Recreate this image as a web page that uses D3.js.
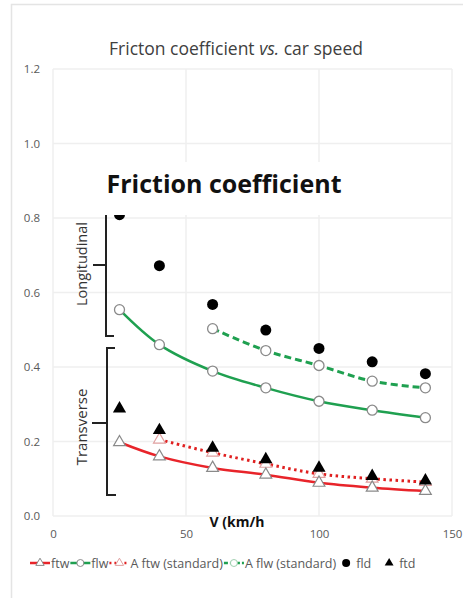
<!DOCTYPE html>
<html>
<head>
<meta charset="utf-8">
<script src="https://cdn.jsdelivr.net/npm/d3@7"></script>
<style>
	body { margin: 0; background: #fff; }
	svg { display: block; font-family: "Open Sans", "Noto Sans", sans-serif; }
</style>
</head>
<body>
<svg id="chart" width="463" height="598"></svg>
<script>
// speeds in km/h
const speeds = [25, 40, 60, 80, 100, 120, 140];
const speedsStdFtw = [40, 60, 80, 100, 120, 140];
const speedsStdFlw = [60, 80, 100, 120, 140];

const ftw = [0.198, 0.160, 0.129, 0.111, 0.089, 0.076, 0.067];
const flw = [0.554, 0.460, 0.389, 0.344, 0.308, 0.284, 0.264];
const ftwStd = [0.205, 0.170, 0.140, 0.113, 0.100, 0.091];
const flwStd = [0.503, 0.444, 0.404, 0.362, 0.344];
const fld = [0.809, 0.672, 0.568, 0.499, 0.450, 0.414, 0.382];
const ftd = [0.288, 0.230, 0.183, 0.152, 0.129, 0.107, 0.095];

const xTicks = [0, 50, 100, 150];
const yTicks = [0, 0.2, 0.4, 0.6, 0.8, 1.0, 1.2];

const svg = d3.select('#chart');

// outer frame
svg.append('path')
	.attr('d', 'M11.5,598 V4.5 H463')
	.attr('fill', 'none')
	.attr('stroke', '#e4e4e4')
	.attr('stroke-width', 1.5);

const x = d3.scaleLinear().domain([0, 150]).range([53, 452]);
const y = d3.scaleLinear().domain([0, 1.2]).range([516, 69]);

// grid
const grid = svg.append('g');
grid.selectAll('.hg').data(yTicks).join('line')
	.attr('x1', x(0)).attr('x2', x(150))
	.attr('y1', d => y(d)).attr('y2', d => y(d))
	.attr('stroke', '#efefef').attr('stroke-width', 1.5);
grid.selectAll('.vg').data(xTicks).join('line')
	.attr('y1', y(0)).attr('y2', y(1.2))
	.attr('x1', d => x(d)).attr('x2', d => x(d))
	.attr('stroke', '#efefef').attr('stroke-width', 1.5);

// axes (labels only)
const yAxis = svg.append('g')
	.attr('transform', 'translate(40,0)')
	.call(d3.axisLeft(y).tickValues(yTicks).tickFormat(d3.format('.1f')).tickSize(0).tickPadding(0));
yAxis.select('.domain').remove();
yAxis.selectAll('text').attr('font-size', 11.5).attr('fill', '#595959').attr('font-family', '"Open Sans", sans-serif');

const xAxis = svg.append('g')
	.attr('transform', 'translate(0,530)')
	.call(d3.axisBottom(x).tickValues(xTicks).tickFormat(d3.format('d')).tickSize(0).tickPadding(0));
xAxis.select('.domain').remove();
xAxis.selectAll('text').attr('font-size', 11.5).attr('fill', '#595959').attr('font-family', '"Open Sans", sans-serif');

// title
const title = svg.append('text')
	.attr('x', 236).attr('y', 55)
	.attr('text-anchor', 'middle')
	.attr('font-size', 17.5)
	.attr('fill', '#404040');
title.append('tspan').text('Fricton coefficient ');
title.append('tspan').attr('font-style', 'italic').text('vs.');
title.append('tspan').text(' car speed');

// axis title
svg.append('text')
	.attr('x', 237).attr('y', 527)
	.attr('text-anchor', 'middle')
	.attr('font-size', 14)
	.attr('font-weight', 'bold')
	.attr('fill', '#111')
	.text('V (km/h');

const line = d3.line().curve(d3.curveCatmullRom.alpha(0.5));
const pts = (xs, vs) => xs.map((s, i) => [x(s), y(vs[i])]);

const series = [
	{xs: speedsStdFlw, vs: flwStd, color: '#1fa050', dash: '7,4', width: 3},
	{xs: speeds, vs: flw, color: '#1fa050', dash: null, width: 2.5},
	{xs: speedsStdFtw, vs: ftwStd, color: '#e02020', dash: '2.5,3.5', width: 3},
	{xs: speeds, vs: ftw, color: '#e8242a', dash: null, width: 2.5}
];

svg.append('g').selectAll('path').data(series).join('path')
	.attr('d', d => line(pts(d.xs, d.vs)))
	.attr('fill', 'none')
	.attr('stroke', d => d.color)
	.attr('stroke-width', d => d.width)
	.attr('stroke-dasharray', d => d.dash);

const tri = d3.symbol().type(d3.symbolTriangle);
const marks = svg.append('g');

// open circles
marks.selectAll('.c1').data(pts(speeds, flw).concat(pts(speedsStdFlw, flwStd))).join('circle')
	.attr('cx', d => d[0]).attr('cy', d => d[1]).attr('r', 5)
	.attr('fill', '#fff').attr('stroke', '#8a8a8a').attr('stroke-width', 1.3);

// open triangles
marks.selectAll('.t1').data(pts(speedsStdFtw, ftwStd)).join('path')
	.attr('transform', d => `translate(${d[0]},${d[1]})`)
	.attr('d', tri.size(60)())
	.attr('fill', '#fff').attr('stroke', '#e0a0a0').attr('stroke-width', 1.2);
marks.selectAll('.t2').data(pts(speeds, ftw)).join('path')
	.attr('transform', d => `translate(${d[0]},${d[1]})`)
	.attr('d', tri.size(60)())
	.attr('fill', '#fff').attr('stroke', '#8a8a8a').attr('stroke-width', 1.2);

// filled markers
marks.selectAll('.fd').data(pts(speeds, fld)).join('circle')
	.attr('cx', d => d[0]).attr('cy', d => d[1]).attr('r', 5.5)
	.attr('fill', '#000');
marks.selectAll('.td').data(pts(speeds, ftd)).join('path')
	.attr('transform', d => `translate(${d[0]},${d[1]})`)
	.attr('d', tri.size(75)())
	.attr('fill', '#000');

// big label with white box
svg.append('rect')
	.attr('x', 96).attr('y', 162).attr('width', 258).attr('height', 53)
	.attr('fill', '#fff');
svg.append('text')
	.attr('x', 224).attr('y', 193)
	.attr('text-anchor', 'middle')
	.attr('font-size', 25)
	.attr('font-weight', 'bold')
	.attr('fill', '#111')
	.text('Friction coefficient');

// brackets
const br = svg.append('g').attr('fill', 'none').attr('stroke', '#222').attr('stroke-width', 2);
br.append('path').attr('d', 'M106,215 V336 H114 M106,265 H93');
br.append('path').attr('d', 'M115,348 H107 V495 H116 M107,423 H92');

svg.append('text')
	.attr('transform', 'translate(87,264) rotate(-90)')
	.attr('text-anchor', 'middle')
	.attr('font-size', 14.5)
	.attr('fill', '#333')
	.text('Longitudinal');
svg.append('text')
	.attr('transform', 'translate(87,427) rotate(-90)')
	.attr('text-anchor', 'middle')
	.attr('font-size', 15)
	.attr('fill', '#333')
	.text('Transverse');

// legend
const legendItems = [
	{label: 'ftw', color: '#e8242a', dash: null, mark: 'tri', stroke: '#8a8a8a'},
	{label: 'flw', color: '#1fa050', dash: null, mark: 'circle', stroke: '#8a8a8a'},
	{label: 'A ftw (standard)', color: '#e02020', dash: '2,3', mark: 'tri', stroke: '#e0a0a0'},
	{label: 'A flw (standard)', color: '#1fa050', dash: '4,2', mark: 'circle', stroke: '#a0d0b0'},
	{label: 'fld', color: null, mark: 'dot'},
	{label: 'ftd', color: null, mark: 'filltri'}
];

const legend = svg.append('g').attr('transform', 'translate(30,563)');
let lx = 0;
legendItems.forEach(it => {
	const g = legend.append('g').attr('transform', `translate(${lx},0)`);
	let w;
	if (it.color) {
		g.append('line').attr('x1', 0).attr('x2', 20).attr('y1', 0).attr('y2', 0)
			.attr('stroke', it.color).attr('stroke-width', 2.5)
			.attr('stroke-dasharray', it.dash);
		if (it.mark === 'tri') {
			g.append('path').attr('transform', 'translate(10,0)').attr('d', tri.size(30)())
				.attr('fill', '#fff').attr('stroke', it.stroke);
		} else {
			g.append('circle').attr('cx', 10).attr('r', 3.5)
				.attr('fill', '#fff').attr('stroke', it.stroke);
		}
		w = 21;
	} else {
		if (it.mark === 'dot') {
			g.append('circle').attr('cx', 9).attr('r', 4).attr('fill', '#000');
		} else {
			g.append('path').attr('transform', 'translate(9,0)').attr('d', tri.size(34)()).attr('fill', '#000');
		}
		w = 19;
	}
	const t = g.append('text').attr('x', w).attr('y', 4.5)
		.attr('font-size', 12.5).attr('fill', '#595959')
		.text(it.label);
	lx += w + t.node().getComputedTextLength() + (it.color ? 1 : 9);
});
</script>
</body>
</html>
